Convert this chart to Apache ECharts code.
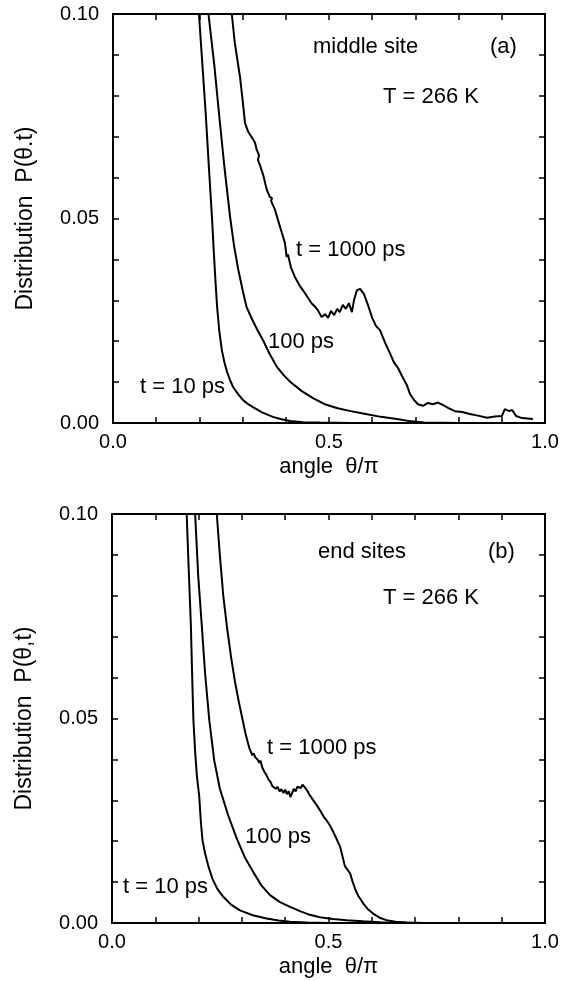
<!DOCTYPE html>
<html>
<head>
<meta charset="utf-8">
<script src="https://cdn.jsdelivr.net/npm/echarts@6/dist/echarts.min.js"></script>
<style>
  html, body { margin: 0; padding: 0; background: #fff; }
  #chart { width: 567px; height: 981px; }
</style>
</head>
<body>
<div id="chart"></div>
<script>
// tick values / labels
const xTickLabels = ['0.0', '0.5', '1.0']
const yTickLabels = ['0.00', '0.05', '0.10']

// (a) middle site, [angle/pi, P]
const midT10 = [[0.199,0.100],[0.207,0.0875],[0.215,0.075],[0.222,0.0625],[0.229,0.0504],[0.233,0.0425],[0.237,0.035],[0.241,0.0284],[0.246,0.0225],[0.252,0.0178],[0.258,0.0148],[0.264,0.0125],[0.271,0.0105],[0.278,0.0088],[0.290,0.0070],[0.301,0.0056],[0.313,0.0046],[0.324,0.0039],[0.345,0.0026],[0.370,0.0015],[0.390,0.0009],[0.410,0.0005],[0.440,0.0002],[0.480,0.0001],[0.550,0.0]]
const midT100 = [[0.221,0.100],[0.2345,0.0875],[0.246,0.075],[0.258,0.0625],[0.271,0.0504],[0.280,0.0435],[0.290,0.0375],[0.300,0.0325],[0.309,0.0284],[0.320,0.0258],[0.333,0.0230],[0.347,0.0203],[0.363,0.0168],[0.379,0.0138],[0.395,0.0117],[0.410,0.0101],[0.437,0.0078],[0.464,0.0060],[0.490,0.0046],[0.520,0.0036],[0.550,0.0029],[0.579,0.0023],[0.620,0.0015],[0.657,0.0010],[0.690,0.0004],[0.720,0.0001],[0.800,0.0]]
const midT1000 = [[0.275,0.100],[0.282,0.0929],[0.294,0.0846],[0.300,0.079],[0.3056,0.0733],[0.313,0.0712],[0.321,0.0699],[0.3287,0.0685],[0.333,0.0667],[0.3299,0.0663],[0.338,0.0655],[0.3356,0.0643],[0.340,0.0631],[0.348,0.0605],[0.356,0.0570],[0.363,0.0553],[0.368,0.0550],[0.366,0.0543],[0.375,0.0521],[0.386,0.0482],[0.398,0.0440],[0.402,0.0406],[0.405,0.0412],[0.412,0.0380],[0.421,0.0357],[0.432,0.0336],[0.444,0.0318],[0.452,0.0305],[0.460,0.0292],[0.468,0.0284],[0.474,0.0276],[0.483,0.0259],[0.491,0.0266],[0.498,0.0257],[0.5046,0.0274],[0.512,0.0264],[0.519,0.0279],[0.525,0.0271],[0.532,0.0289],[0.539,0.0279],[0.546,0.0293],[0.553,0.0271],[0.558,0.0301],[0.5648,0.0325],[0.572,0.0328],[0.581,0.0315],[0.590,0.0289],[0.600,0.0257],[0.609,0.0237],[0.613,0.0240],[0.618,0.0227],[0.630,0.0196],[0.641,0.0171],[0.650,0.0149],[0.660,0.0134],[0.669,0.0115],[0.680,0.0093],[0.6875,0.0071],[0.697,0.0056],[0.706,0.0046],[0.7176,0.0042],[0.729,0.0049],[0.7407,0.0046],[0.752,0.0050],[0.764,0.0044],[0.7755,0.0037],[0.7917,0.0029],[0.808,0.0027],[0.826,0.0022],[0.845,0.0018],[0.866,0.0013],[0.884,0.0016],[0.900,0.0017],[0.907,0.0034],[0.917,0.0029],[0.924,0.0032],[0.933,0.0017],[0.947,0.0012],[0.972,0.0010]]

// (b) end sites
const endT10 = [[0.1725,0.100],[0.177,0.087],[0.182,0.0733],[0.185,0.061],[0.188,0.0496],[0.192,0.042],[0.196,0.036],[0.2016,0.0308],[0.205,0.025],[0.209,0.0202],[0.215,0.017],[0.222,0.0141],[0.232,0.0108],[0.243,0.0084],[0.257,0.0064],[0.275,0.0045],[0.2956,0.0031],[0.325,0.0019],[0.357,0.0011],[0.385,0.0006],[0.411,0.0003],[0.450,0.0001],[0.500,0.0]]
const endT100 = [[0.192,0.100],[0.199,0.085],[0.207,0.0733],[0.215,0.061],[0.2247,0.0496],[0.236,0.0398],[0.249,0.0329],[0.268,0.0264],[0.288,0.0207],[0.307,0.0160],[0.326,0.0125],[0.345,0.0092],[0.365,0.0068],[0.388,0.0051],[0.410,0.0040],[0.434,0.0029],[0.457,0.0020],[0.480,0.0014],[0.510,0.0010],[0.542,0.0007],[0.580,0.0004],[0.619,0.0002],[0.700,0.0]]
const endT1000 = [[0.242,0.100],[0.249,0.090],[0.257,0.080],[0.266,0.072],[0.275,0.065],[0.284,0.059],[0.293,0.054],[0.302,0.0495],[0.309,0.046],[0.314,0.0440],[0.318,0.0425],[0.321,0.0418],[0.324,0.0410],[0.327,0.0415],[0.331,0.0405],[0.336,0.0400],[0.340,0.0392],[0.343,0.0397],[0.347,0.0380],[0.352,0.0370],[0.357,0.0361],[0.362,0.0350],[0.366,0.0345],[0.370,0.0335],[0.374,0.0338],[0.378,0.0328],[0.382,0.0333],[0.387,0.0322],[0.391,0.0327],[0.396,0.0318],[0.400,0.0326],[0.404,0.0315],[0.408,0.0322],[0.412,0.0308],[0.416,0.0318],[0.420,0.0328],[0.424,0.0322],[0.428,0.0333],[0.432,0.0337],[0.436,0.0330],[0.440,0.0338],[0.445,0.0332],[0.450,0.0325],[0.457,0.0312],[0.465,0.0300],[0.473,0.0288],[0.480,0.0276],[0.490,0.0258],[0.495,0.0252],[0.503,0.0239],[0.510,0.0225],[0.518,0.0207],[0.521,0.0210],[0.527,0.0186],[0.533,0.0160],[0.538,0.0139],[0.544,0.0130],[0.550,0.0121],[0.556,0.0100],[0.562,0.0082],[0.568,0.0068],[0.573,0.0060],[0.580,0.0048],[0.590,0.0035],[0.603,0.0023],[0.618,0.0013],[0.634,0.0007],[0.655,0.0003],[0.681,0.0001],[0.720,0.0]]

const font = 'Liberation Sans, Arial, Helvetica, sans-serif'
const black = '#000'

// fresh objects for each axis so nothing is shared between models
const tick = () => ({ show: true, inside: true, length: 6, lineStyle: { color: black, width: 1.5 } })
const line = () => ({ show: true, onZero: false, lineStyle: { color: black, width: 2 } })

function xLabel(v) {
  const s = v.toFixed(1)
  return xTickLabels.includes(s) ? s : ''
}
function yLabel(v) {
  const s = v.toFixed(2)
  return yTickLabels.includes(s) ? s : ''
}

function xAxes(gridIndex) {
  return [
    {
      gridIndex, type: 'value', min: 0, max: 1, interval: 0.1, position: 'bottom',
      axisLine: line(), axisTick: tick(), splitLine: { show: false },
      axisLabel: { formatter: xLabel, color: black, fontSize: 20, fontFamily: font, margin: 9 },
      name: 'angle  θ/π', nameLocation: 'middle', nameGap: 33,
      nameTextStyle: { color: black, fontSize: 22, fontFamily: font }
    },
    {
      gridIndex, type: 'value', min: 0, max: 1, interval: 0.1, position: 'top',
      axisLine: line(), axisTick: tick(), splitLine: { show: false },
      axisLabel: { show: false }
    }
  ]
}

function yAxes(gridIndex, title) {
  return [
    {
      gridIndex, type: 'value', min: 0, max: 0.1, interval: 0.01, position: 'left',
      axisLine: line(), axisTick: tick(), splitLine: { show: false },
      axisLabel: { formatter: yLabel, color: black, fontSize: 20, fontFamily: font, margin: 14 },
      name: title, nameLocation: 'middle', nameGap: 76,
      nameTextStyle: { color: black, fontSize: 23, fontFamily: font }
    },
    {
      gridIndex, type: 'value', min: 0, max: 0.1, interval: 0.01, position: 'right',
      axisLine: line(), axisTick: tick(), splitLine: { show: false },
      axisLabel: { show: false }
    }
  ]
}

function curve(data, axisIdx) {
  return {
    type: 'line', data, xAxisIndex: axisIdx, yAxisIndex: axisIdx,
    showSymbol: false, symbol: 'none', silent: true, animation: false,
    lineStyle: { color: black, width: 2 }, clip: true
  }
}

function note(text, x, y) {
  return {
    type: 'text', x, y, silent: true,
    style: { text, fill: black, font: '22px ' + font, align: 'left', verticalAlign: 'middle' }
  }
}

const chart = echarts.init(document.getElementById('chart'), null, { renderer: 'canvas' })
chart.setOption({
  backgroundColor: '#fff',
  animation: false,
  grid: [
    { left: 113, top: 14, width: 432, height: 409 },
    { left: 112, top: 514, width: 433, height: 409 }
  ],
  xAxis: [...xAxes(0), ...xAxes(1)],
  yAxis: [...yAxes(0, 'Distribution  P(θ.t)'), ...yAxes(1, 'Distribution  P(θ,t)')],
  series: [
    curve(midT10, 0), curve(midT100, 0), curve(midT1000, 0),
    curve(endT10, 2), curve(endT100, 2), curve(endT1000, 2)
  ],
  graphic: [
    note('middle site', 313, 47),
    note('(a)', 490, 47),
    note('T = 266 K', 383, 97),
    note('t = 1000 ps', 296, 250),
    note('100 ps', 268, 342),
    note('t = 10 ps', 140, 387),
    note('end sites', 318, 552),
    note('(b)', 488, 552),
    note('T = 266 K', 383, 598),
    note('t = 1000 ps', 267, 748),
    note('100 ps', 245, 837),
    note('t = 10 ps', 123, 887)
  ]
})
</script>
</body>
</html>
